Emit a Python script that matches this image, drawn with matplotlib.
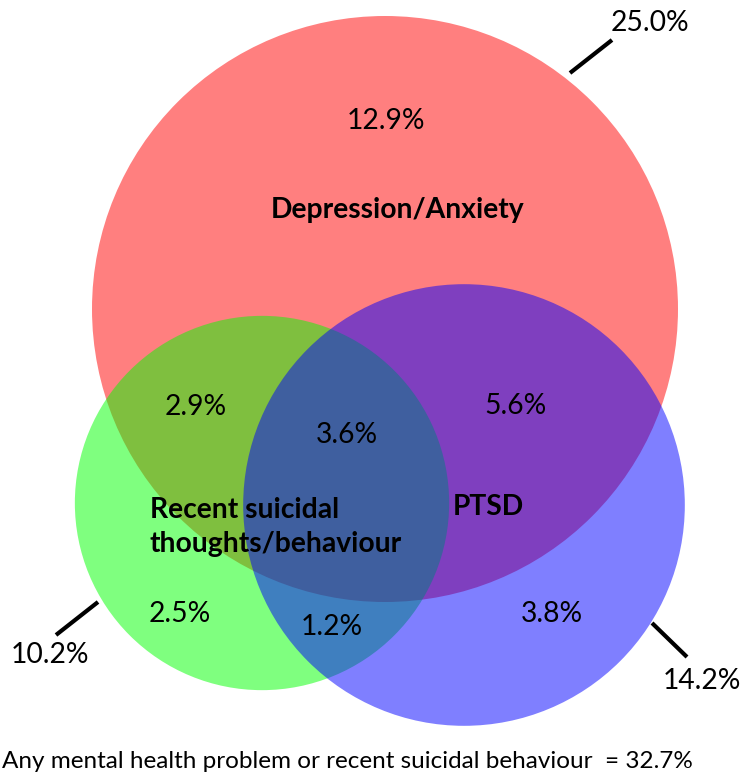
import numpy as np
import matplotlib.pyplot as plt
from matplotlib.patches import Circle

plt.rcParams['font.family'] = ['Lato', 'DejaVu Sans']

setNames = ["Depression/Anxiety", "Recent suicidal\nthoughts/behaviour", "PTSD"]
setTotals = [25.0, 10.2, 14.2]
setColors = ["red", "lime", "blue"]

regionNames = ["Dep only", "Dep+Sui", "All", "Dep+PTSD", "Sui only", "Sui+PTSD", "PTSD only"]
regionValues = [12.9, 2.9, 3.6, 5.6, 2.5, 1.2, 3.8]

anyTotal = 32.7

# layout (pixel coords, y down)
centers = [(385, 309), (262, 503), (464, 505)]
scale = 58.6  # radius = scale * sqrt(total) -> areas follow the data
nameXY = [(398, 210, 'center'), (150, 527, 'left'), (453, 507, 'left')]
regionXY = [(386, 121), (196, 407), (347, 435), (515, 406), (180, 614), (332, 627), (552, 614)]
totalXY = [(650, 23), (50, 655), (702, 681)]
leaders = [((612, 40), (570, 73)), ((98, 602), (56, 635)), ((652, 623), (687, 657))]

fs = 20.3

fig = plt.figure(figsize=(7.45, 7.83), dpi=100)
ax = fig.add_axes([0, 0, 1, 1])
ax.set_xlim(0, 745)
ax.set_ylim(783, 0)
ax.axis('off')

for (cx, cy), total, col in zip(centers, setTotals, setColors):
    r = scale * np.sqrt(total)
    ax.add_patch(Circle((cx, cy), r, facecolor=col, alpha=0.5, edgecolor='none'))

for (x, y), v in zip(regionXY, regionValues):
    ax.text(x, y, f"{v:.1f}%", ha='center', va='center', fontsize=fs)

for (x, y, ha), name in zip(nameXY, setNames):
    ax.text(x, y, name, ha=ha, va='center', fontsize=fs, fontweight='bold', linespacing=1.38)

for (x, y), total in zip(totalXY, setTotals):
    ax.text(x, y, f"{total:.1f}%", ha='center', va='center', fontsize=fs)

for (p1, p2) in leaders:
    ax.plot([p1[0], p2[0]], [p1[1], p2[1]], color='black', lw=3, solid_capstyle='butt')

ax.text(2, 762, f"Any mental health problem or recent suicidal behaviour  = {anyTotal}%",
        ha='left', va='center', fontsize=17.5)

fig.savefig("out.png", dpi=100)
